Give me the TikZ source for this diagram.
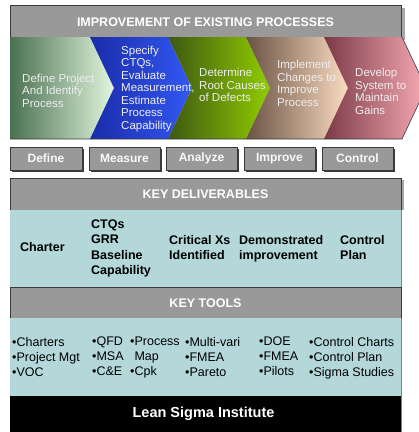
\documentclass[tikz,border=0pt]{standalone}
\usepackage{fontspec}
\setmainfont{Liberation Sans}
\usetikzlibrary{calc}
\definecolor{hdrgray}{HTML}{999999}
\definecolor{edgegray}{HTML}{3A3A3A}
\definecolor{shadowgray}{HTML}{A8A8A8}
\definecolor{teal1}{HTML}{B4D8DA}
\definecolor{chevtxt}{HTML}{EDEDED}
\definecolor{cA1}{HTML}{4A7052}\definecolor{cA2}{HTML}{E2F6DE}
\definecolor{cB1}{HTML}{1A2CA8}\definecolor{cB2}{HTML}{3358F4}
\definecolor{cC1}{HTML}{3E5812}\definecolor{cC2}{HTML}{90CC00}
\definecolor{cD1}{HTML}{6A5244}\definecolor{cD2}{HTML}{FADCC0}
\definecolor{cE1}{HTML}{7C3A46}\definecolor{cE2}{HTML}{F6AAB4}
\tikzset{
  hdrbar/.style={fill=hdrgray, draw=edgegray, line width=1pt},
  hdrtext/.style={text=white, inner sep=0pt, font=\bfseries\fontsize{12.5}{15}\selectfont},
  btn/.style={fill=hdrgray, draw=edgegray, line width=0.8pt},
  btntext/.style={text=white!95!gray, inner sep=0pt, font=\bfseries\fontsize{12}{14}\selectfont},
  chevtext/.style={align=left, anchor=north west, inner sep=0pt, text=chevtxt, font=\fontsize{11.5}{12.5}\selectfont},
  deltext/.style={align=left, anchor=north west, inner sep=0pt, text=black, font=\bfseries\fontsize{12.5}{15.5}\selectfont},
  tooltext/.style={align=left, anchor=north west, inner sep=0pt, text=black, font=\fontsize{12.5}{15}\selectfont},
}
\begin{document}
\begin{tikzpicture}[x=1pt,y=-1pt]
\useasboundingbox (0,0) rectangle (419,432);
\fill[white] (0,0) rectangle (419,432);
% title bar
\fill[shadowgray] (13,8) rectangle (405,40);
\draw[hdrbar] (10,5) rectangle (401,37);
\node[hdrtext] (title) at (205.5,22) {IMPROVEMENT OF EXISTING PROCESSES};
% chevrons
\begin{scope}
\clip (0,0) rectangle (419,432);
\shade[left color=cA1, right color=cA2] (10,37) -- (90,37) -- (114,88) -- (90,139) -- (10,139) -- cycle;
\shade[left color=cB1, right color=cB2] (90,37) -- (168,37) -- (192,88) -- (168,139) -- (90,139) -- (114,88) -- cycle;
\shade[left color=cC1, right color=cC2] (168,37) -- (246,37) -- (270,88) -- (246,139) -- (168,139) -- (192,88) -- cycle;
\shade[left color=cD1, right color=cD2] (246,37) -- (324,37) -- (348,88) -- (324,139) -- (246,139) -- (270,88) -- cycle;
\shade[left color=cE1, right color=cE2] (324,37) -- (402,37) -- (426,88) -- (402,139) -- (324,139) -- (348,88) -- cycle;
\draw[edgegray, line width=0.6pt] (402,37) -- (426,88) -- (402,139) -- (10,139);
\end{scope}
\node[chevtext] (ch1) at (22,73.5) {Define Project\\And Identify\\Process};
\node[chevtext] (ch2) at (121,45.5) {Specify\\CTQs,\\Evaluate\\Measurement,\\Estimate\\Process\\Capability};
\node[chevtext] (ch3) at (199,68) {Determine\\Root Causes\\of Defects};
\node[chevtext] (ch4) at (277,60) {Implement\\Changes to\\Improve\\Process};
\node[chevtext] (ch5) at (355,68) {Develop\\System to\\Maintain\\Gains};
% phase buttons
\foreach \xa/\xb/\nm/\lab in {10/82/bdef/Define, 89/160/bmea/Measure, 166/237/bana/Analyze, 244/315/bimp/Improve, 322/393/bcon/Control}{
  \fill[edgegray] (\xa+1.5,148.5) rectangle (\xb+1.5,171.5);
  \draw[btn] (\xa,147) rectangle (\xb,170);
  \node[btntext] (\nm) at ({(\xa+\xb)/2},158.5) {\lab};
}
% key deliverables
\fill[shadowgray] (12,180) rectangle (404,210);
\draw[hdrbar] (10,178) rectangle (401,210);
\node[hdrtext] (kdel) at (205.5,194) {KEY DELIVERABLES};
\fill[teal1] (10,210) rectangle (401,287);
\draw[gray, line width=1pt] (401.5,210) -- (401.5,287);
\node[deltext] (d1) at (20,242.5) {Charter};
\node[deltext] (d2) at (91,219.5) {CTQs\\GRR\\Baseline\\Capability};
\node[deltext] (d3) at (169,235) {Critical Xs\\Identified};
\node[deltext] (d4) at (239,235) {Demonstrated\\improvement};
\node[deltext] (d5) at (340,235) {Control\\Plan};
% key tools
\draw[hdrbar] (10,287) rectangle (401,318);
\node[hdrtext] (ktool) at (205.5,303) {KEY TOOLS};
\fill[teal1] (10,318) rectangle (401,396);
\draw[gray, line width=1pt] (401.5,318) -- (401.5,432);
\node[tooltext] (t1) at (12,337) {•Charters\\•Project Mgt\\•VOC};
\node[tooltext] (t2) at (92,337) {•QFD\\•MSA\\•C\&E};
\node[tooltext] (t3) at (130,337) {•Process\\\phantom{•}Map\\•Cpk};
\node[tooltext] (t4) at (185,337) {•Multi-vari\\•FMEA\\•Pareto};
\node[tooltext] (t5) at (259,337) {•DOE\\•FMEA\\•Pilots};
\node[tooltext] (t6) at (309,337) {•Control Charts\\•Control Plan\\•Sigma Studies};
% footer
\fill[black] (10,396) rectangle (401,432);
\node[text=white, inner sep=0pt, font=\bfseries\fontsize{14.5}{17}\selectfont] (foot) at (203.5,413.5) {Lean Sigma Institute};
\end{tikzpicture}
\end{document}
